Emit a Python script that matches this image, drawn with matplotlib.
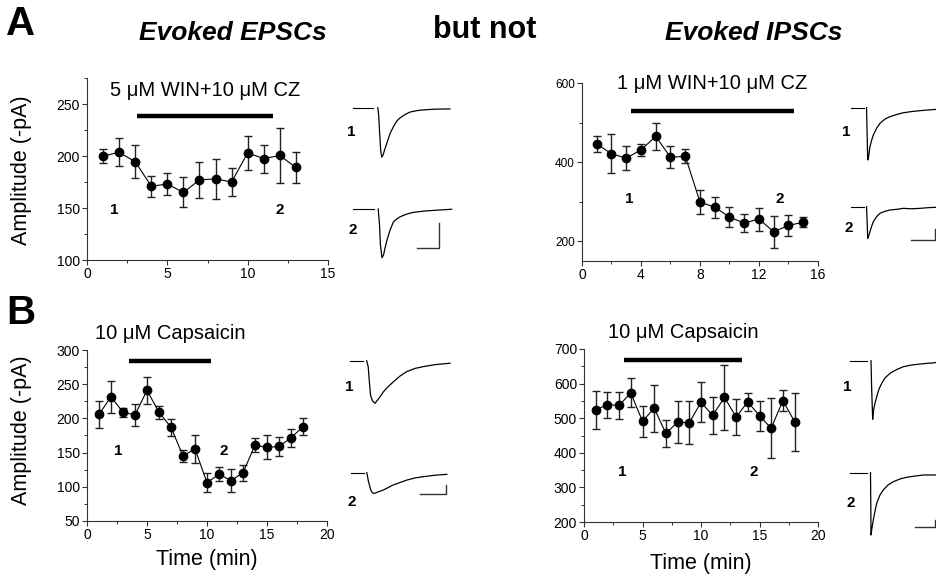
import numpy as np
import matplotlib.pyplot as plt
from matplotlib.ticker import MultipleLocator

plt.rcParams['font.family'] = ['Liberation Sans', 'DejaVu Sans']

W, H = 937, 580

# time courses (min, -pA)
epsc_win_t = np.arange(1, 14)
epsc_win_amp = [200, 203.5, 194.5, 171, 173, 165, 177, 178, 175, 203, 197.5, 200.5, 189]
epsc_win_err = [7, 13.5, 16, 10, 10.5, 14.5, 17, 19.5, 13.5, 16, 13.5, 26.5, 14.5]

ipsc_win_t = np.arange(1, 16)
ipsc_win_amp = [446, 421, 410, 431, 465, 412, 415, 299, 286, 261, 246, 256, 224, 240, 248]
ipsc_win_err = [20, 49, 31, 16, 35, 28, 18.5, 31, 27, 26, 23, 29, 40, 26, 12.5]

epsc_cap_t = np.arange(1, 19)
epsc_cap_amp = [206, 231.5, 209, 205, 241, 209, 187, 145, 155.5, 106, 118.5, 109, 120.5,
                161, 157.5, 159, 171.5, 188]
epsc_cap_err = [20, 23, 6.5, 15.5, 20, 9.5, 12.5, 8.5, 20, 14, 10, 17, 12, 10.5, 17.5,
                13.5, 13.5, 13]

ipsc_cap_t = np.arange(1, 19)
ipsc_cap_amp = [524, 539, 537, 573, 491, 529, 456, 489, 487, 546, 508, 560, 504, 547,
                507, 471, 551, 490]
ipsc_cap_err = [55, 38, 38, 42, 44, 68, 38, 60, 63, 58, 54, 94, 52, 26, 44, 86, 30, 84]

# drug application bars (start, end, level) and labels
bars = [(3.1, 11.6, 238), (3.3, 14.4, 530), (3.5, 10.3, 284), (3.4, 13.5, 669)]
drug_labels = ['5 μM WIN+10 μM CZ', '1 μM WIN+10 μM CZ', '10 μM Capsaicin', '10 μM Capsaicin']

# example traces: baseline end (ms), then (ms, pA) after the artifact
epsc_win_1_t = [11.4, 11.8, 12.3, 12.7, 13.2, 13.8, 14.5, 15.5, 17.0, 18.5, 20.0, 21.5, 23.8,
                26.0, 29.1, 32.1, 37.4, 44.2]
epsc_win_1_a = [0, -30, -112, -173, -203, -194, -173, -146, -105, -78, -55, -42, -28,
                -18, -12, -9, -6, -5]
epsc_win_2_t = [11.6, 12.2, 12.6, 13.3, 14.0, 14.7, 15.6, 17.0, 18.5, 20.0, 21.5, 24.5, 27.5,
                32.9, 39.7, 45.0]
epsc_win_2_a = [0, -66, -148, -200, -189, -160, -127, -86, -53, -41, -32, -21, -14,
                -8, -4, -1]

ipsc_win_1_t = [13.3, 13.9, 14.3, 15.0, 16.2, 17.7, 19.1, 22.0, 24.8, 29.1, 33.3, 39.1, 44.7,
                51.9, 59.0, 65.8, 73.3]
ipsc_win_1_a = [0, -294, -476, -449, -355, -294, -248, -185, -142, -103, -82, -62, -46,
                -35, -27, -21, -15]
ipsc_win_2_t = [13.3, 13.9, 14.3, 15.1, 16.2, 17.7, 19.1, 22.0, 24.8, 29.1, 33.3, 39.1, 44.7,
                51.9, 59.0, 65.8, 73.3]
ipsc_win_2_a = [0, -167, -288, -267, -228, -176, -137, -89, -60, -42, -30, -24, -15,
                -19, -15, -9, -5]

epsc_cap_1_t = [6.4, 7.0, 7.4, 7.9, 8.6, 9.6, 10.6, 11.6, 12.8, 14.1, 16.7, 19.3, 21.8, 25.0,
                28.2, 32.7, 38.5]
epsc_cap_1_a = [0, -33, -107, -191, -222, -237, -219, -200, -174, -153, -117, -85, -61, -43,
                -33, -22, -14]
epsc_cap_2_t = [6.2, 6.8, 7.7, 8.4, 9.1, 10.5, 12.6, 16.4, 21.6, 24.8, 28.0, 32.5, 37.0]
epsc_cap_2_a = [0, -46, -96, -113, -115, -107, -96, -68, -41, -29, -22, -14, -9]

ipsc_cap_1_t = [21.0, 21.7, 22.7, 23.3, 25.0, 26.7, 29.0, 31.7, 35.0, 40.0, 46.7, 53.3, 61.7,
                70.0, 78.0, 83.0, 86.7]
ipsc_cap_1_a = [0, -219, -437, -380, -316, -269, -211, -169, -129, -94, -66, -45, -32,
                -25, -19, -17, -12]
ipsc_cap_2_t = [20.5, 20.8, 21.0, 22.0, 23.3, 25.0, 26.7, 30.0, 33.3, 38.0, 43.3, 50.0, 56.7,
                65.0, 73.3, 86.7]
ipsc_cap_2_a = [0, -241, -465, -412, -353, -286, -228, -166, -129, -92, -67, -47, -34,
                -25, -17, -17]

fig = plt.figure(figsize=(W / 100, H / 100), dpi=100)


def px_axes(x0, x1, y_top, y_bot):
    return fig.add_axes([x0 / W, 1 - y_bot / H, (x1 - x0) / W, (y_bot - y_top) / H])


def style(ax, xlim, xmaj, xmin, ylim, ymaj, ymin, ysize=10):
    ax.set_xlim(*xlim)
    ax.set_ylim(*ylim)
    ax.xaxis.set_major_locator(MultipleLocator(xmaj))
    ax.xaxis.set_minor_locator(MultipleLocator(xmin))
    ax.yaxis.set_major_locator(MultipleLocator(ymaj))
    ax.yaxis.set_minor_locator(MultipleLocator(ymin))
    for s in ['top', 'right']:
        ax.spines[s].set_visible(False)
    for s in ['left', 'bottom']:
        ax.spines[s].set_linewidth(0.8)
        ax.spines[s].set_color('#333333')
    ax.tick_params(which='major', length=3.5, width=0.8, pad=1.5, color='#333333')
    ax.tick_params(which='minor', length=2, width=0.7, color='#333333')
    ax.tick_params(axis='x', labelsize=10)
    ax.tick_params(axis='y', labelsize=ysize)
    ax.patch.set_visible(False)


def time_course(ax, t, amp, err, bar, label, label_y, n1, n2, n_y):
    ax.errorbar(t, amp, yerr=err, fmt='-o', color='black', ms=6, lw=0.8,
                ecolor='#222222', elinewidth=1.0, capsize=3, capthick=1.0, clip_on=False)
    ax.plot([bar[0], bar[1]], [bar[2], bar[2]], color='black', lw=3.2,
            solid_capstyle='butt', clip_on=False)
    ax.text((bar[0] + bar[1]) / 2, label_y, label, ha='center', va='center', fontsize=14.5)
    ax.text(n1, n_y, '1', ha='center', va='center', fontsize=11, fontweight='bold')
    ax.text(n2, n_y, '2', ha='center', va='center', fontsize=11, fontweight='bold')


ax1 = px_axes(87, 328, 78, 260)
style(ax1, (0, 15), 5, 2.5, (100, 275), 50, 25)
time_course(ax1, epsc_win_t, epsc_win_amp, epsc_win_err, bars[0], drug_labels[0], 263,
            1.7, 12.0, 148)

ax2 = px_axes(582, 818, 83, 261)
style(ax2, (0, 16), 4, 2, (150, 600), 200, 100, ysize=8.5)
time_course(ax2, ipsc_win_t, ipsc_win_amp, ipsc_win_err, bars[1], drug_labels[1], 598,
            3.2, 13.4, 307)

ax3 = px_axes(87, 327, 350, 521)
style(ax3, (0, 20), 5, 2.5, (50, 300), 50, 25)
time_course(ax3, epsc_cap_t, epsc_cap_amp, epsc_cap_err, bars[2], drug_labels[2], 324,
            2.6, 11.4, 153)

ax4 = px_axes(584, 818, 349, 522)
style(ax4, (0, 20), 5, 2.5, (200, 700), 100, 50)
time_course(ax4, ipsc_cap_t, ipsc_cap_amp, ipsc_cap_err, bars[3], drug_labels[3], 748,
            3.3, 14.5, 345)


def trace(x0, base, width, ms_px, pa_px, t, a, base_end, sbar=None):
    ax = px_axes(x0, x0 + width, base - 10, base + 70)
    ax.set_xlim(0, width * ms_px)
    ax.set_ylim(-70 * pa_px, 10 * pa_px)
    ax.axis('off')
    ax.plot([0, base_end], [0, 0], color='black', lw=0.8, clip_on=False)
    ax.plot(t, a, color='black', lw=0.9, clip_on=False)
    if sbar is not None:
        sx, sy, dx, dy = sbar
        ax.plot([sx, sx + dx, sx + dx], [sy, sy, sy + dy], color='#333333', lw=1.0,
                clip_on=False)
    return ax


# column A left: 10 ms / 100 pA
trace(352.7, 107.7, 100, 0.4545, 4.1, epsc_win_1_t, epsc_win_1_a, 9.4)
trace(352.7, 209, 100, 0.4545, 4.1, epsc_win_2_t, epsc_win_2_a, 9.8, (29.4, -159, 10, 100))
# column A right: 20 ms / 100 pA
trace(851, 107.7, 86, 0.855, 9.1, ipsc_win_1_t, ipsc_win_1_a, 11.4)
trace(851, 206.7, 86, 0.855, 9.1, ipsc_win_2_t, ipsc_win_2_a, 11.4, (51.5, -303, 20, 100))
# column B left: 10 ms / 50 pA
trace(350, 360.7, 100, 0.385, 5.56, epsc_cap_1_t, epsc_cap_1_a, 5.1)
trace(350.7, 472.7, 100, 0.385, 5.56, epsc_cap_2_t, epsc_cap_2_a, 5.1, (26.7, -118, 10, 50))
# column B right: 20 ms / 50 pA
trace(850, 360.7, 87, 1.0, 7.46, ipsc_cap_1_t, ipsc_cap_1_a, 17.5)
trace(850, 472.7, 87, 1.0, 7.46, ipsc_cap_2_t, ipsc_cap_2_a, 17, (65.5, -403, 20, 50))

# trace numbers
for (x, y, s) in [(351, 131.7, '1'), (353, 230, '2'), (846, 131.7, '1'), (848.3, 228.3, '2'),
                  (349.3, 387.3, '1'), (351.7, 501.7, '2'), (847.3, 386.7, '1'), (851, 503.3, '2')]:
    fig.text(x / W, 1 - y / H, s, ha='center', va='center', fontsize=11, fontweight='bold')

# headings and axis labels
fig.text(6 / W, 1 - 24 / H, 'A', ha='left', va='center', fontsize=29, fontweight='bold')
fig.text(6 / W, 1 - 313 / H, 'B', ha='left', va='center', fontsize=29, fontweight='bold')
fig.text(233 / W, 1 - 33 / H, 'Evoked EPSCs', ha='center', va='center', fontsize=19,
         fontweight='bold', style='italic')
fig.text(754 / W, 1 - 33 / H, 'Evoked IPSCs', ha='center', va='center', fontsize=19,
         fontweight='bold', style='italic')
fig.text(485 / W, 1 - 30 / H, 'but not', ha='center', va='center', fontsize=22,
         fontweight='bold')
fig.text(22 / W, 1 - 170 / H, 'Amplitude (-pA)', ha='center', va='center', fontsize=15.5,
         rotation=90)
fig.text(22 / W, 1 - 430 / H, 'Amplitude (-pA)', ha='center', va='center', fontsize=15.5,
         rotation=90)
fig.text(207 / W, 1 - 560 / H, 'Time (min)', ha='center', va='center', fontsize=15.5)
fig.text(701 / W, 1 - 563 / H, 'Time (min)', ha='center', va='center', fontsize=15.5)

fig.savefig('out.png', dpi=100)
